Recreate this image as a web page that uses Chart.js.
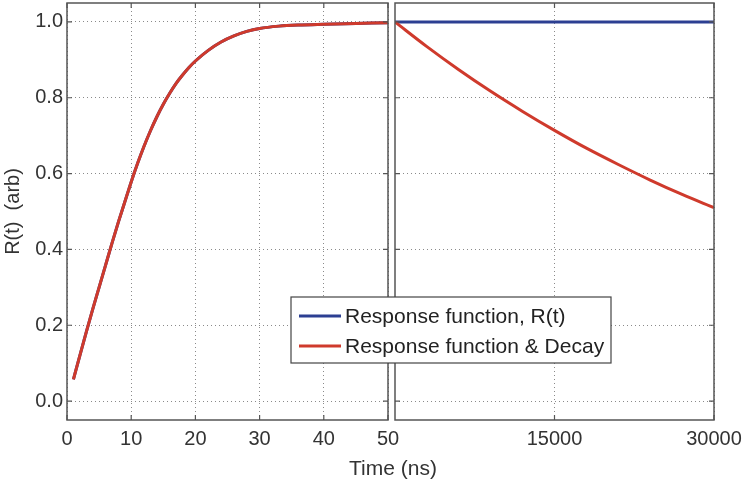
<!DOCTYPE html>
<html>
<head>
<meta charset="utf-8">
<script src="https://cdn.jsdelivr.net/npm/chart.js@4.4.1/dist/chart.umd.min.js"></script>
<style>
	body { margin: 0; background: #ffffff; }
	#wrap { position: relative; width: 745px; height: 487px; }
	canvas { position: absolute; left: 0; top: 0; }
</style>
</head>
<body>
<div id="wrap">
	<canvas id="left" width="745" height="487"></canvas>
	<canvas id="right" width="745" height="487"></canvas>
</div>
<script>

/* data */

var tLeft = [1, 2, 3, 4, 5, 6, 7, 8, 9, 10, 11, 12, 13, 14, 15, 16, 17, 18, 19, 20, 22, 24, 26, 28, 30, 33, 36, 40, 45, 50];
var respLeft = [0.057, 0.12, 0.182, 0.242, 0.30, 0.358, 0.416, 0.472, 0.525, 0.578, 0.627, 0.672, 0.713, 0.75, 0.783, 0.812, 0.838, 0.86, 0.88, 0.897, 0.925, 0.947, 0.963, 0.975, 0.983, 0.989, 0.992, 0.994, 0.996, 0.998];

var tRight = [0, 3000, 6000, 9000, 12000, 15000, 18000, 21000, 24000, 27000, 30000];
var respRight = [1.0, 1.0, 1.0, 1.0, 1.0, 1.0, 1.0, 1.0, 1.0, 1.0, 1.0];
var decayRight = [1.0, 0.935, 0.874, 0.817, 0.764, 0.714, 0.667, 0.624, 0.583, 0.545, 0.51];

var yTicks = [0, 0.2, 0.4, 0.6, 0.8, 1.0];
var xTicksLeft = [0, 10, 20, 30, 40, 50];
var xTicksRight = [15000, 30000];

var seriesNames = ['Response function, R(t)', 'Response function & Decay'];
var blue = '#2c3f92';
var red = '#cf3a2c';


function toPoints(xs, ys) {
	var pts = [];
	for (var i = 0; i < xs.length; i++) {
		pts.push({x: xs[i], y: ys[i]});
	}
	return pts;
}

function setTicks(list) {
	return function(scale) {
		scale.ticks = list.map(function(v) { return {value: v}; });
	};
}

// fixed axis sizes, and no extra room for the end labels
function fixWidth(w) {
	return function(scale) {
		scale.width = w;
		scale.paddingTop = 0;
		scale.paddingBottom = 0;
	};
}
function fixHeight(h) {
	return function(scale) {
		scale.height = h;
		scale.paddingLeft = 0;
		scale.paddingRight = 0;
	};
}

var font = {family: 'Liberation Sans, Arial, sans-serif', size: 20};

// box round the plot area + little inward ticks, matlab style
var boxPlugin = {
	id: 'box',
	afterDatasetsDraw: function(chart) {
		var a = chart.chartArea;
		var ctx = chart.ctx;
		var xs = chart.scales.x;
		var ys = chart.scales.y;
		ctx.save();
		ctx.strokeStyle = '#555555';
		ctx.lineWidth = 1.2;
		ctx.beginPath();
		xs.ticks.forEach(function(t) {
			var px = xs.getPixelForValue(t.value);
			ctx.moveTo(px, a.bottom);
			ctx.lineTo(px, a.bottom - 5);
			ctx.moveTo(px, a.top);
			ctx.lineTo(px, a.top + 5);
		});
		ys.ticks.forEach(function(t) {
			var py = ys.getPixelForValue(t.value);
			ctx.moveTo(a.left, py);
			ctx.lineTo(a.left + 5, py);
			ctx.moveTo(a.right, py);
			ctx.lineTo(a.right - 5, py);
		});
		ctx.stroke();
		ctx.lineWidth = 1.5;
		ctx.strokeRect(a.left, a.top, a.right - a.left, a.bottom - a.top);
		ctx.restore();
	}
};

// legend + shared x title, drawn over both panels
var overlayPlugin = {
	id: 'overlay',
	afterDraw: function(chart) {
		var ctx = chart.ctx;
		ctx.save();
		ctx.fillStyle = '#ffffff';
		ctx.fillRect(291, 297, 320, 66);
		ctx.strokeStyle = '#444444';
		ctx.lineWidth = 1.2;
		ctx.strokeRect(291, 297, 320, 66);

		var colors = [blue, red];
		ctx.font = '21px Liberation Sans, Arial, sans-serif';
		ctx.textBaseline = 'middle';
		for (var i = 0; i < seriesNames.length; i++) {
			var y = 316 + i * 30;
			ctx.strokeStyle = colors[i];
			ctx.lineWidth = 3;
			ctx.beginPath();
			ctx.moveTo(299, y);
			ctx.lineTo(341, y);
			ctx.stroke();
			ctx.fillStyle = '#222222';
			ctx.fillText(seriesNames[i], 345, y + 1);
		}

		ctx.textAlign = 'center';
		ctx.fillStyle = '#333333';
		ctx.font = '21px Liberation Sans, Arial, sans-serif';
		ctx.fillText('Time (ns)', 393, 469);
		ctx.restore();
	}
};


/* Left panel, 0 - 50 ns */

var leftChart = new Chart(document.getElementById('left'), {
	type: 'line',
	data: {
		datasets: [{
			label: seriesNames[0],
			data: toPoints(tLeft, respLeft),
			borderColor: blue,
			borderWidth: 3,
			pointRadius: 0,
			cubicInterpolationMode: 'monotone',
			order: 1
		}, {
			label: seriesNames[1],
			data: toPoints(tLeft, respLeft),
			borderColor: red,
			borderWidth: 3,
			pointRadius: 0,
			cubicInterpolationMode: 'monotone',
			order: 0
		}]
	},
	options: {
		responsive: false,
		animation: false,
		layout: {autoPadding: false, padding: {left: 0, right: 357, top: 3, bottom: 0}},
		plugins: {legend: {display: false}, tooltip: {enabled: false}},
		scales: {
			x: {
				type: 'linear',
				min: 0,
				max: 50,
				afterBuildTicks: setTicks(xTicksLeft),
				afterFit: fixHeight(67),
				grid: {color: '#8a8a8a', drawTicks: false, lineWidth: 1},
				border: {display: false, dash: [1, 3]},
				ticks: {color: '#333333', font: font, padding: 7, maxRotation: 0}
			},
			y: {
				min: -0.05,
				max: 1.05,
				afterBuildTicks: setTicks(yTicks),
				afterFit: fixWidth(67),
				grid: {color: '#8a8a8a', drawTicks: false, lineWidth: 1},
				border: {display: false, dash: [1, 3]},
				ticks: {
					color: '#333333',
					font: font,
					padding: 4,
					callback: function(v) { return v.toFixed(1); }
				},
				title: {display: true, text: 'R(t)  (arb)', color: '#333333', font: font, padding: 1}
			}
		}
	},
	plugins: [boxPlugin]
});


/* Right panel, 50 - 30000 ns */

var rightChart = new Chart(document.getElementById('right'), {
	type: 'line',
	data: {
		datasets: [{
			label: seriesNames[0],
			data: toPoints(tRight, respRight),
			borderColor: blue,
			borderWidth: 3,
			pointRadius: 0,
			order: 1
		}, {
			label: seriesNames[1],
			data: toPoints(tRight, decayRight),
			borderColor: red,
			borderWidth: 3,
			pointRadius: 0,
			cubicInterpolationMode: 'monotone',
			order: 0
		}]
	},
	options: {
		responsive: false,
		animation: false,
		layout: {autoPadding: false, padding: {left: 0, right: 31, top: 3, bottom: 0}},
		plugins: {legend: {display: false}, tooltip: {enabled: false}},
		scales: {
			x: {
				type: 'linear',
				min: 0,
				max: 30000,
				afterBuildTicks: setTicks(xTicksRight),
				afterFit: fixHeight(67),
				grid: {color: '#8a8a8a', drawTicks: false, lineWidth: 1},
				border: {display: false, dash: [1, 3]},
				ticks: {
					color: '#333333',
					font: font,
					padding: 7,
					maxRotation: 0,
					callback: function(v) { return String(v); }
				}
			},
			y: {
				min: -0.05,
				max: 1.05,
				afterBuildTicks: setTicks(yTicks),
				afterFit: fixWidth(395),
				grid: {color: '#8a8a8a', drawTicks: false, lineWidth: 1},
				border: {display: false, dash: [1, 3]},
				ticks: {display: false}
			}
		}
	},
	plugins: [boxPlugin, overlayPlugin]
});

</script>
</body>
</html>
